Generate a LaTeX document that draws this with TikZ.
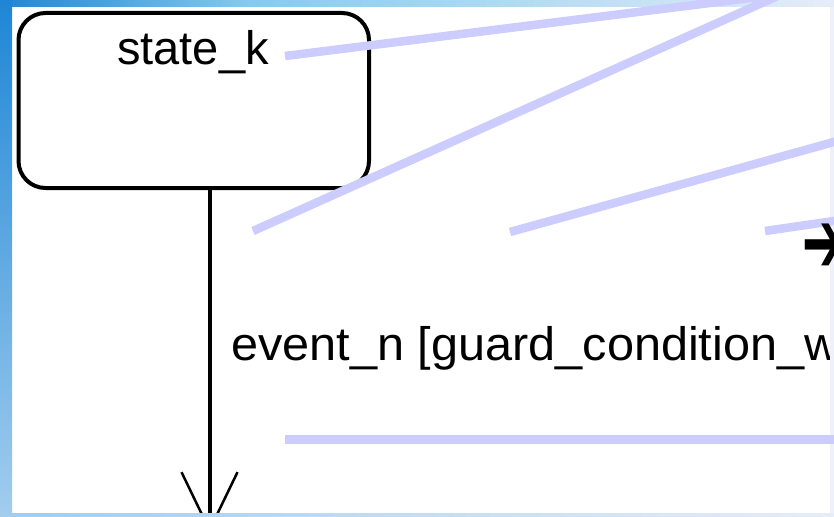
\documentclass[tikz,border=0pt]{standalone}
\usepackage{fontspec}
\setmainfont{Liberation Sans}
\newfontfamily\symfont{DejaVu Sans}
\usetikzlibrary{arrows.meta}
\definecolor{callout}{HTML}{CCCCFF}
\definecolor{frameA}{HTML}{1E86D6}
\definecolor{frameB}{HTML}{84CBEF}
\definecolor{frameC}{HTML}{E6EDF8}
\definecolor{frameD}{HTML}{A2CDEE}
\definecolor{frameE}{HTML}{EEF0FA}
\tikzset{
  umlfont/.style={font=\fontsize{47}{56}\selectfont},
  statebox/.style={draw, line width=4pt, rounded corners=27pt, inner sep=0pt,
    minimum width=350.5pt, minimum height=175pt},
  transition/.style={line width=4pt,
    -{Straight Barb[length=58pt, width=56pt, line width=2.5pt]}},
  calloutline/.style={callout, line width=8.5pt},
}
\begin{document}
\begin{tikzpicture}[x=1pt, y=-1pt]
\useasboundingbox (0,0) rectangle (834,516);
\clip (0,0) rectangle (834,516);
\fill[white] (0,0) rectangle (834,516);

% state and its outgoing transition
\node[statebox] (state) at (193.75,100.5) {};
\node[umlfont, anchor=base west, inner sep=0pt] (stname) at (117,65) {state\_k};
\coordinate (tip) at (209.5,533);
\draw[transition] (state.south -| tip) -- (tip);

% transition label, cut off by the frame
\begin{scope}
  \clip (12,7) rectangle (830,513);
  \node[umlfont, anchor=base west, inner sep=0pt] (trig) at (231,360)
    {\scalebox{1.035}[1]{event\_n [guard\_condition\_w}};
\end{scope}

% slide frame
\shade[left color=frameA, right color=frameB] (0,0) rectangle (250,7);
\shade[left color=frameB, right color=frameC] (250,0) rectangle (834,7);
\shade[top color=frameA, bottom color=frameD] (0,0) rectangle (12,516);
\shade[left color=frameD, right color=frameC] (12,513) rectangle (834,516);
\fill[frameE] (830,7) rectangle (834,513);

% callout leaders
\coordinate (apex) at (782,-6);
\coordinate (c1) at (285,56);
\coordinate (c2) at (253,231);
\coordinate (c3) at (510,232);
\coordinate (c3end) at (900,123.6);
\coordinate (c4) at (765,231);
\coordinate (c4end) at (900,211.4);
\coordinate (c5) at (285,439.5);
\coordinate (c5end) at (900,439.5);
\draw[calloutline] (c1) -- (apex);
\draw[calloutline] (c2) -- (apex);
\draw[calloutline] (c3) -- (c3end);
\draw[calloutline] (c4) -- (c4end);
\draw[calloutline] (c5) -- (c5end);

% bullet arrow at the right edge
\node[font=\symfont\fontsize{88}{100}\selectfont, anchor=west, inner sep=0pt] (more) at (802,248) {\scalebox{0.55}[1]{➔}};
\end{tikzpicture}
\end{document}
